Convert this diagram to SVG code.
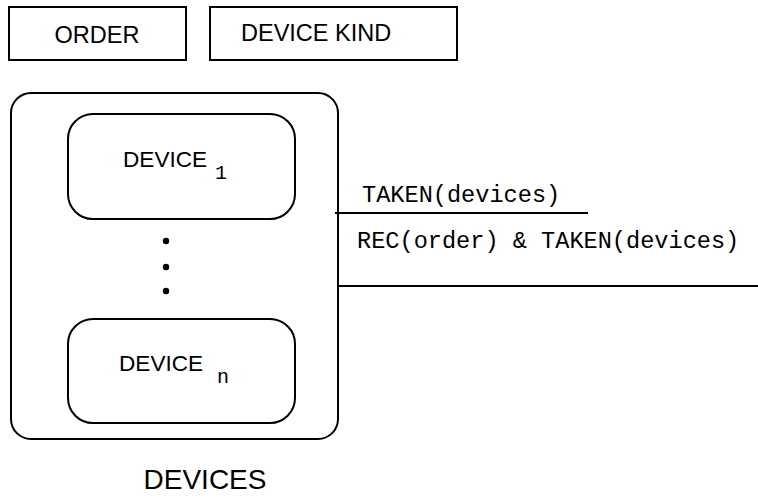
<svg xmlns="http://www.w3.org/2000/svg" width="758" height="498" viewBox="0 0 758 498">
<style>
.box{fill:#fff;stroke:#000;stroke-width:2}
.sans{font-family:"Liberation Sans",Arial,sans-serif;fill:#000}
.mono{font-family:"Liberation Mono","Courier New",monospace;fill:#000}
.ln{stroke:#000;stroke-width:2;fill:none}
</style>
<rect width="758" height="498" fill="#fff"/>
<g id="order">
<rect class="box" x="9" y="7" width="177" height="53"/>
<text class="sans" x="97" y="42.5" font-size="23.5" text-anchor="middle">ORDER</text>
</g>
<g id="device-kind">
<rect class="box" x="210" y="7" width="247" height="53"/>
<text class="sans" x="241" y="41" font-size="23.5">DEVICE KIND</text>
</g>
<g id="devices">
<rect class="box" x="11" y="93" width="327" height="346" rx="20" ry="20"/>
<text class="sans" x="205" y="489" font-size="28" text-anchor="middle">DEVICES</text>
</g>
<g id="device-1">
<rect class="box" x="68" y="114" width="227" height="105" rx="25" ry="25"/>
<text class="sans" x="123" y="166.5" font-size="22.6">DEVICE</text>
<text class="mono" x="215" y="179" font-size="20">1</text>
</g>
<g id="ellipsis">
<circle cx="166" cy="241" r="3.2" fill="#000"/>
<circle cx="166" cy="267" r="3.2" fill="#000"/>
<circle cx="166" cy="291" r="3.2" fill="#000"/>
</g>
<g id="device-n">
<rect class="box" x="68" y="319" width="227" height="104" rx="25" ry="25"/>
<text class="sans" x="119" y="371" font-size="22.6">DEVICE</text>
<text class="mono" x="217" y="383" font-size="20">n</text>
</g>
<g id="connectors">
<line class="ln" x1="335" y1="213" x2="588" y2="213"/>
<text class="mono" x="362" y="201.5" font-size="23.6">TAKEN(devices)</text>
<line class="ln" x1="337" y1="286" x2="758" y2="286"/>
<text class="mono" x="357" y="247.5" font-size="23.6">REC(order) &amp; TAKEN(devices)</text>
</g>
</svg>
